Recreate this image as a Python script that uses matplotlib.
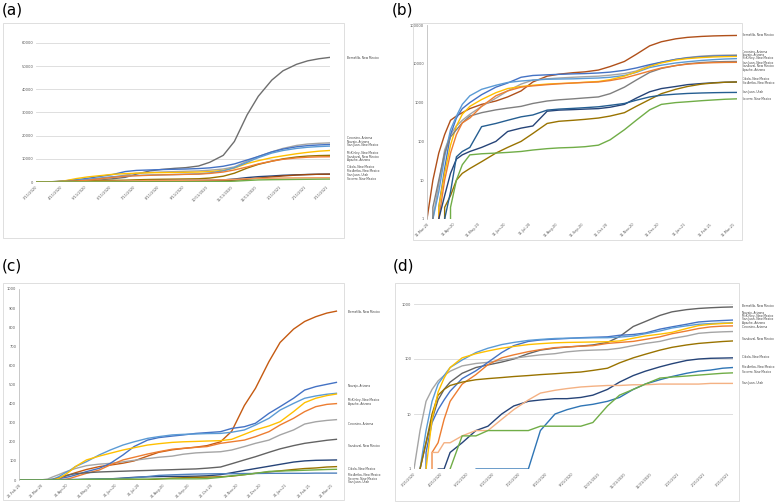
import matplotlib
matplotlib.use('Agg')
import matplotlib.pyplot as plt
import matplotlib.dates as mdates
from matplotlib.patches import Rectangle
from matplotlib.ticker import FuncFormatter, FixedLocator
from datetime import datetime

W, H = 777, 503

# counties (same order everywhere)
names = ['Bernalillo, New Mexico', 'Coconino, Arizona', 'Navajo, Arizona', 'McKinley, New Mexico',
         'San Juan, New Mexico', 'Sandoval, New Mexico', 'Apache, Arizona', 'Cibola, New Mexico',
         'Rio Arriba, New Mexico', 'San Juan, Utah', 'Socorro, New Mexico']

# ---- cumulative cases ----
case_days = ['2020-03-11', '2020-03-18', '2020-03-25', '2020-04-01', '2020-04-08', '2020-04-15',
             '2020-04-22', '2020-05-01', '2020-05-15', '2020-06-01', '2020-06-15', '2020-07-01',
             '2020-07-15', '2020-08-01', '2020-08-15', '2020-09-01', '2020-09-15', '2020-10-01',
             '2020-10-15', '2020-11-01', '2020-11-15', '2020-12-01', '2020-12-15', '2021-01-01',
             '2021-01-15', '2021-02-01', '2021-02-15', '2021-03-01', '2021-03-15']
cases_bernalillo = [1, 10, 50, 150, 350, 450, 550, 700, 900, 1100, 1400, 2000, 3400, 4800, 5400, 5900,
                    6200, 6900, 8500, 11500, 17500, 29000, 37000, 44000, 48000, 50800, 52300, 53200, 53800]
cases_coconino = [0, 1, 8, 60, 150, 250, 350, 500, 800, 1300, 2000, 3000, 3800, 4100, 4300, 4500, 4650,
                  4800, 5100, 5600, 6500, 9000, 11000, 13000, 14500, 15800, 16400, 16700, 16900]
cases_navajo = [0, 0, 2, 20, 150, 400, 700, 1000, 1600, 2500, 3200, 4500, 5000, 5200, 5350, 5500, 5600,
                5800, 6100, 6800, 7800, 9500, 11000, 13000, 14200, 15200, 15700, 16000, 16200]
cases_mckinley = [0, 1, 5, 40, 200, 450, 900, 1500, 2200, 2800, 3300, 3600, 3800, 4000, 4050, 4100, 4200,
                  4300, 4500, 5000, 6000, 8000, 9200, 10500, 11300, 12200, 12800, 13300, 13600]
cases_sanjuan_nm = [0, 0, 2, 15, 80, 250, 500, 800, 1200, 1800, 2300, 2600, 2800, 3000, 3100, 3200, 3350,
                    3500, 3900, 4800, 6200, 8500, 10500, 12500, 13600, 14500, 15000, 15300, 15500]
cases_sandoval = [0, 2, 10, 50, 130, 200, 300, 450, 550, 650, 720, 800, 950, 1100, 1180, 1250, 1320,
                  1400, 1700, 2500, 3800, 6000, 7600, 9000, 10000, 10800, 11200, 11400, 11500]
cases_apache = [0, 0, 1, 10, 50, 150, 300, 400, 800, 1500, 2000, 2500, 2700, 2900, 3050, 3200, 3300,
                3400, 3700, 4300, 5200, 6500, 7800, 9000, 9800, 10400, 10700, 10850, 10900]
cases_cibola = [0, 0, 1, 4, 15, 35, 45, 55, 70, 100, 180, 220, 250, 600, 640, 660, 680, 700, 760, 900,
                1300, 1900, 2300, 2600, 2900, 3100, 3250, 3350, 3400]
cases_rio_arriba = [0, 0, 0, 2, 4, 10, 15, 20, 30, 50, 70, 100, 160, 290, 330, 350, 370, 400, 450, 550,
                    800, 1200, 1700, 2200, 2600, 3000, 3200, 3350, 3400]
cases_sanjuan_ut = [0, 0, 0, 1, 5, 40, 55, 70, 240, 290, 350, 430, 480, 640, 680, 710, 740, 780, 850,
                    950, 1150, 1400, 1550, 1650, 1720, 1770, 1800, 1820, 1830]
cases_socorro = [0, 0, 0, 0, 2, 10, 25, 45, 48, 50, 52, 55, 60, 65, 68, 70, 73, 80, 110, 200, 350, 650,
                 900, 1000, 1050, 1120, 1170, 1220, 1250]

# ---- cumulative deaths ----
death_days = ['2020-02-21', '2020-03-21', '2020-03-28', '2020-04-04', '2020-04-11', '2020-04-18',
              '2020-04-25', '2020-05-02', '2020-05-16', '2020-06-01', '2020-06-15', '2020-07-01',
              '2020-07-15', '2020-08-01', '2020-08-15', '2020-09-01', '2020-09-15', '2020-10-01',
              '2020-10-15', '2020-11-01', '2020-11-15', '2020-12-01', '2020-12-15', '2021-01-01',
              '2021-01-15', '2021-02-01', '2021-02-15', '2021-03-01', '2021-03-15', '2021-03-27']
deaths_bernalillo = [0, 0, 1, 3, 8, 18, 28, 38, 55, 70, 78, 88, 100, 125, 145, 158, 165, 172, 180, 200,
                     255, 390, 480, 620, 720, 790, 830, 855, 874, 884]
deaths_coconino = [0, 1, 5, 17, 28, 40, 50, 60, 75, 83, 87, 95, 103, 112, 119, 125, 135, 142, 145, 148,
                   157, 175, 192, 209, 236, 262, 293, 305, 312, 316]
deaths_navajo = [0, 0, 0, 2, 7, 12, 18, 26, 44, 61, 87, 131, 175, 209, 222, 230, 236, 244, 248, 253, 270,
                 279, 297, 349, 384, 428, 471, 489, 501, 511]
deaths_mckinley = [0, 0, 1, 5, 17, 35, 50, 70, 96, 131, 157, 183, 200, 218, 227, 236, 239, 241, 243, 244,
                   250, 262, 288, 323, 366, 401, 428, 440, 449, 454]
deaths_sanjuan_nm = [0, 0, 0, 0, 2, 3, 8, 17, 35, 52, 79, 105, 119, 136, 148, 161, 166, 171, 175, 192,
                     200, 209, 227, 253, 288, 323, 358, 384, 396, 400]
deaths_sandoval = [0, 0, 1, 3, 10, 22, 28, 33, 38, 42, 44, 46, 48, 50, 52, 54, 56, 58, 62, 68, 85, 105,
                   122, 145, 163, 180, 192, 200, 208, 213]
deaths_apache = [0, 0, 0, 1, 8, 25, 45, 70, 105, 125, 140, 157, 169, 183, 190, 197, 200, 202, 204, 206,
                 213, 239, 262, 283, 305, 358, 405, 428, 442, 450]
deaths_cibola = [0, 0, 0, 0, 0, 1, 1, 2, 3, 5, 6, 10, 14, 17, 18, 19, 19, 20, 22, 28, 38, 50, 60, 72, 82,
                 94, 100, 103, 104, 105]
deaths_rio_arriba = [0, 0, 0, 0, 0, 0, 0, 0, 0, 1, 1, 1, 1, 1, 5, 10, 12, 14, 15, 17, 20, 28, 35, 42, 48,
                     55, 60, 63, 68, 70]
deaths_sanjuan_ut = [0, 0, 0, 0, 2, 2, 3, 3, 4, 5, 5, 8, 12, 18, 24, 27, 29, 31, 32, 33, 33, 34, 34, 35,
                     35, 35, 35, 36, 36, 36]
deaths_socorro = [0, 0, 0, 0, 0, 0, 0, 1, 4, 4, 5, 5, 5, 5, 6, 6, 6, 6, 7, 14, 22, 28, 35, 45, 47, 49, 51,
                  53, 55, 56]

cases = [cases_bernalillo, cases_coconino, cases_navajo, cases_mckinley, cases_sanjuan_nm, cases_sandoval,
         cases_apache, cases_cibola, cases_rio_arriba, cases_sanjuan_ut, cases_socorro]
deaths = [deaths_bernalillo, deaths_coconino, deaths_navajo, deaths_mckinley, deaths_sanjuan_nm,
          deaths_sandoval, deaths_apache, deaths_cibola, deaths_rio_arriba, deaths_sanjuan_ut, deaths_socorro]

# line colours per panel (same county order)
colors_a = ['#6e6e6e', '#a5a5a5', '#4472c4', '#ffc000', '#5b9bd5', '#997300', '#ed7d31', '#264478',
            '#9e480e', '#f1975a', '#70ad47']
colors_b = ['#b0501a', '#a5a5a5', '#4472c4', '#5b9bd5', '#ffc000', '#7f7f7f', '#ed7d31', '#264478',
            '#997300', '#255e91', '#70ad47']
colors_c = ['#c55a11', '#a5a5a5', '#4472c4', '#5b9bd5', '#ed7d31', '#636363', '#ffc000', '#264478',
            '#997300', '#4f81bd', '#70ad47']
colors_d = ['#636363', '#a5a5a5', '#4472c4', '#5b9bd5', '#ed7d31', '#997300', '#ffc000', '#264478',
            '#2f75b5', '#f4b183', '#70ad47']

# right-hand label heights (data units), order of names
lab_a = [53600, 19000, 17400, 12700, 15900, 11000, 9400, 6300, 4700, 3000, 1300]
lab_b = [54000, 19700, 16500, 13800, 10300, 8800, 6900, 3990, 3270, 1830, 1240]
lab_c = [881, 291, 494, 419, None, 178, 398, 58, 24, -12, 7]
lab_d = [918, 386, 685, 604, 526, 233, 450, 110, 71, 37, 57]


def d(s):
    return datetime.strptime(s, '%Y-%m-%d')


def month_ticks(y, m, day, n):
    out = []
    for i in range(n):
        mm = m + i
        out.append(datetime(y + (mm - 1) // 12, (mm - 1) % 12 + 1, day))
    return out


fmt_slash = FuncFormatter(lambda v, p: '{}/{}/{}'.format(mdates.num2date(v).month, mdates.num2date(v).day,
                                                          mdates.num2date(v).year))
fmt_dash = FuncFormatter(lambda v, p: mdates.num2date(v).strftime('%d-%b-%y'))

fig = plt.figure(figsize=(W / 100, H / 100), dpi=100)


def frame(x0, y0, x1, y1):
    fig.patches.append(Rectangle((x0 / W, 1 - y1 / H), (x1 - x0) / W, (y1 - y0) / H,
                                 transform=fig.transFigure, fill=False, ec='#d9d9d9', lw=0.6))


def axes(x0, y0, x1, y1):
    return fig.add_axes([x0 / W, 1 - y1 / H, (x1 - x0) / W, (y1 - y0) / H])


def panel(ax, days, data, colors, labels, lab_x, log, xlim, ticks, fmt):
    xs = [d(s) for s in days]
    for vals, c in zip(data, colors):
        ax.plot(xs, vals, color=c, lw=1.0, clip_on=True)
    if log:
        ax.set_yscale('log', nonpositive='clip')
    ax.set_xlim(d(xlim[0]), d(xlim[1]))
    ax.xaxis.set_major_locator(FixedLocator(mdates.date2num(ticks)))
    ax.xaxis.set_major_formatter(fmt)
    ax.yaxis.set_minor_locator(FixedLocator([]))
    for lbl in ax.get_xticklabels():
        lbl.set_rotation(45)
        lbl.set_ha('right')
        lbl.set_va('top')
        lbl.set_rotation_mode('anchor')
    ax.tick_params(axis='both', length=0, labelsize=2.6, colors='#595959', pad=2)
    for s in ax.spines.values():
        s.set_visible(False)
    tr = ax.get_yaxis_transform()
    for nm, y in zip(names, labels):
        if y is None:
            continue
        ax.text(lab_x, y, nm, transform=tr, fontsize=2.1, color='#404040', va='center', ha='left',
                clip_on=False)


# (a) cases, linear
frame(3, 23, 344, 238)
ax_a = axes(36, 43, 330, 182)
panel(ax_a, case_days, cases, colors_a, lab_a, 1.058, False, ('2020-03-11', '2021-03-15'),
      month_ticks(2020, 3, 11, 13), fmt_slash)
ax_a.set_ylim(0, 60000)
ax_a.set_yticks(range(0, 60001, 10000))
ax_a.grid(axis='y', color='#d9d9d9', lw=0.6)
ax_a.set_axisbelow(True)

# (b) cases, log
frame(413, 23, 742, 240)
ax_b = axes(427, 25, 737, 219)
panel(ax_b, case_days, cases, colors_b, lab_b, 1.016, True, ('2020-03-11', '2021-03-15'),
      month_ticks(2020, 3, 11, 13), fmt_dash)
ax_b.set_ylim(1, 100000)
ax_b.set_yticks([1, 10, 100, 1000, 10000, 100000])
ax_b.set_yticklabels(['1', '10', '100', '1000', '10000', '100000'])
ax_b.spines['left'].set_visible(True)
ax_b.spines['left'].set_color('#bfbfbf')
ax_b.spines['left'].set_linewidth(0.6)

# (c) deaths, linear
frame(3, 283, 344, 500)
ax_c = axes(19, 289, 338, 480)
panel(ax_c, death_days, deaths, colors_c, lab_c, 1.03, False, ('2020-02-21', '2021-03-29'),
      month_ticks(2020, 2, 21, 14), fmt_dash)
ax_c.set_ylim(0, 1000)
ax_c.set_yticks(range(0, 1001, 100))
ax_c.spines['left'].set_visible(True)
ax_c.spines['left'].set_color('#bfbfbf')
ax_c.spines['left'].set_linewidth(0.6)

# (d) deaths, log
frame(395, 283, 739, 501)
ax_d = axes(414, 304, 733, 469)
panel(ax_d, death_days, deaths, colors_d, lab_d, 1.028, True, ('2020-03-21', '2021-03-27'),
      month_ticks(2020, 3, 21, 13), fmt_slash)
ax_d.set_ylim(1, 1000)
ax_d.set_yticks([1, 10, 100, 1000])
ax_d.set_yticklabels(['1', '10', '100', '1000'])
ax_d.grid(axis='y', color='#d9d9d9', lw=0.6)
ax_d.set_axisbelow(True)

for tag, x, y in [('(a)', 2, 10), ('(b)', 392, 10), ('(c)', 2, 266), ('(d)', 393, 266)]:
    fig.text(x / W, 1 - y / H, tag, fontsize=11, va='center', ha='left', color='black')

fig.savefig('out.png', dpi=100)
